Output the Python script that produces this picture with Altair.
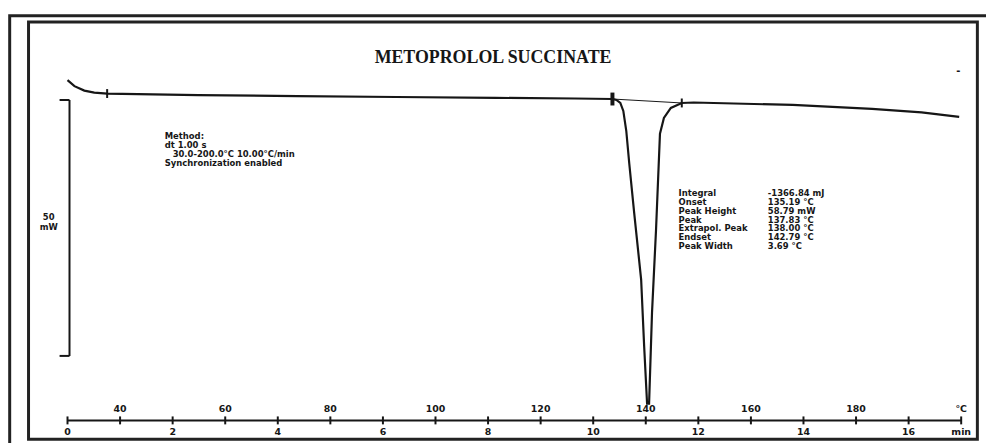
import altair as alt
import pandas as pd

# ---- data (time in min, heat flow in mW) ----
curve_time = [0.0, 0.132, 0.320, 0.509, 0.754, 2.488, 4.372, 6.257, 8.142, 9.650,
              10.366, 10.441, 10.516, 10.573, 10.629, 10.686, 10.780, 10.912, 10.969,
              11.025, 11.063, 11.119, 11.195, 11.270, 11.345, 11.477, 11.685, 11.911,
              13.796, 15.304, 16.246, 16.962]
curve_mw = [2.71, 1.55, 0.68, 0.29, 0.10, -0.19, -0.39, -0.58, -0.74, -0.87,
            -0.97, -1.16, -1.74, -3.29, -7.17, -13.57, -23.26, -36.24, -49.22,
            -60.50, -60.50, -42.64, -26.55, -7.75, -4.65, -2.71, -1.74, -1.65,
            -2.13, -2.91, -3.59, -4.46]

marker_time = [0.754, 10.366, 11.685]
marker_mw = [0.10, -0.97, -1.74]

scalebar_time = [0.038, -0.151]
scalebar_mw = [-1.16, -51.16]

axis_mw = [-63.76, -61.63, -66.09]          # axis line, upper labels, lower labels
axis_ticks = list(range(0, 18))
temp_pos = [1, 3, 5, 7, 9, 11, 13, 15, 17]
temp_labels = ["40", "60", "80", "100", "120", "140", "160", "180", "°C"]
min_pos = [0, 2, 4, 6, 8, 10, 12, 14, 16, 17]
min_labels = ["0", "2", "4", "6", "8", "10", "12", "14", "16", "min"]

title_text = "METOPROLOL SUCCINATE"
method_lines = ["Method:", "dt 1.00 s", "30.0-200.0°C 10.00°C/min", "Synchronization enabled"]
result_names = ["Integral", "Onset", "Peak Height", "Peak", "Extrapol. Peak", "Endset", "Peak Width"]
result_values = ["-1366.84 mJ", "135.19 °C", "58.79 mW", "137.83 °C", "138.00 °C", "142.79 °C", "3.69 °C"]
scale_label = ["50", "mW"]

# ---- scales ----
W, H = 986, 435
xs = alt.Scale(domain=[-1.132, 17.472], nice=False, zero=False)
ys = alt.Scale(domain=[-67.83, 16.47], nice=False, zero=False)
INK = "#161616"
FONT = "DejaVu Sans"
TS = 8.5   # annotation font size
LH = 9     # annotation line height

def X(f):
    return alt.X(f"{f}:Q", scale=xs, axis=None)

def Y(f):
    return alt.Y(f"{f}:Q", scale=ys, axis=None)

one = pd.DataFrame({"a": [0]})

curve_df = pd.DataFrame({"t": curve_time, "mw": curve_mw, "o": list(range(len(curve_time)))})
curve = alt.Chart(curve_df).mark_line(color=INK, strokeWidth=2.2).encode(
    x=X("t"), y=Y("mw"), order="o:Q")

base_df = pd.DataFrame({"t": [marker_time[1], marker_time[2]], "mw": [marker_mw[1], marker_mw[2]]})
baseline = alt.Chart(base_df).mark_line(color=INK, strokeWidth=1).encode(x=X("t"), y=Y("mw"))

thin_df = pd.DataFrame({"t": [marker_time[0], marker_time[2]], "mw": [marker_mw[0], marker_mw[2]]})
thin_marks = alt.Chart(thin_df).mark_tick(orient="vertical", size=9, thickness=2, color=INK, opacity=1).encode(
    x=X("t"), y=Y("mw"))
onset_df = pd.DataFrame({"t": [marker_time[1]], "mw": [marker_mw[1]]})
onset_mark = alt.Chart(onset_df).mark_tick(orient="vertical", size=13, thickness=4, color=INK, opacity=1).encode(
    x=X("t"), y=Y("mw"))

# scale bar "]"
sb_df = pd.DataFrame({"t": [scalebar_time[0]], "y1": [scalebar_mw[0]], "y2": [scalebar_mw[1]]})
sb_v = alt.Chart(sb_df).mark_rule(color=INK, strokeWidth=2).encode(x=X("t"), y=Y("y1"), y2="y2:Q")
sb_h_df = pd.DataFrame({"t1": [scalebar_time[1]] * 2, "t2": [scalebar_time[0]] * 2, "mw": scalebar_mw})
sb_h = alt.Chart(sb_h_df).mark_rule(color=INK, strokeWidth=2).encode(x=X("t1"), x2="t2:Q", y=Y("mw"))
sb_text = alt.Chart(one).mark_text(text=scale_label, font=FONT, fontSize=8.5, fontWeight="bold",
                                   lineHeight=10, align="center", baseline="middle", color=INK).encode(
    x=alt.value(41), y=alt.value(209))

# custom time / temperature axis
ax_df = pd.DataFrame({"t1": [axis_ticks[0]], "t2": [axis_ticks[-1]], "mw": [axis_mw[0]]})
ax_line = alt.Chart(ax_df).mark_rule(color=INK, strokeWidth=2).encode(x=X("t1"), x2="t2:Q", y=Y("mw"))
tick_df = pd.DataFrame({"t": axis_ticks, "mw": [axis_mw[0]] * len(axis_ticks)})
ax_ticks = alt.Chart(tick_df).mark_tick(orient="vertical", size=8, thickness=2, color=INK, opacity=1).encode(
    x=X("t"), y=Y("mw"))
temp_df = pd.DataFrame({"t": temp_pos, "lab": temp_labels, "mw": [axis_mw[1]] * len(temp_pos)})
temp_text = alt.Chart(temp_df).mark_text(font=FONT, fontSize=9.5, fontWeight="bold", color=INK,
                                         baseline="middle").encode(x=X("t"), y=Y("mw"), text="lab:N")
min_df = pd.DataFrame({"t": min_pos, "lab": min_labels, "mw": [axis_mw[2]] * len(min_pos)})
min_text = alt.Chart(min_df).mark_text(font=FONT, fontSize=9.5, fontWeight="bold", color=INK,
                                       baseline="middle").encode(x=X("t"), y=Y("mw"), text="lab:N")

# frames
outer = alt.Chart(one).mark_rect(fill="transparent", stroke="#222222", strokeWidth=3).encode(
    x=alt.value(1.7), x2=alt.value(1010), y=alt.value(6), y2=alt.value(470))
inner = alt.Chart(one).mark_rect(fill="transparent", stroke="#222222", strokeWidth=3).encode(
    x=alt.value(20.7), x2=alt.value(977.3), y=alt.value(12.3), y2=alt.value(433))

title = alt.Chart(one).mark_text(text=title_text, font="Liberation Serif", fontSize=18, fontWeight="bold",
                                 color=INK, align="center", baseline="middle").encode(
    x=alt.value(489), y=alt.value(49))
dash = alt.Chart(one).mark_text(text="-", font=FONT, fontSize=10, fontWeight="bold", color=INK,
                                align="center", baseline="middle").encode(x=alt.value(958), y=alt.value(62))

def text_block(lines, x, y):
    return alt.Chart(one).mark_text(text=lines, font=FONT, fontSize=TS, fontWeight="bold",
                                    lineHeight=LH, align="left", baseline="top", color=INK).encode(
        x=alt.value(x), y=alt.value(y))

method_a = text_block(method_lines[0:2], 158, 123.5)
method_b = text_block([method_lines[2]], 166, 123.5 + 2 * LH)
method_c = text_block([method_lines[3]], 158, 123.5 + 3 * LH)
res_names = text_block(result_names, 676, 180.5)
res_vals = text_block(result_values, 766, 180.5)

chart = alt.layer(
    outer, inner, title, dash, method_a, method_b, method_c, res_names, res_vals,
    sb_v, sb_h, sb_text, baseline, curve, thin_marks, onset_mark,
    ax_line, ax_ticks, temp_text, min_text,
).properties(
    width=W, height=H,
    autosize=alt.AutoSizeParams(type="none"),
    padding=0,
    background="white",
).configure_view(stroke=None)

chart.save("out.html", embed_options={"renderer": "svg", "actions": False})
